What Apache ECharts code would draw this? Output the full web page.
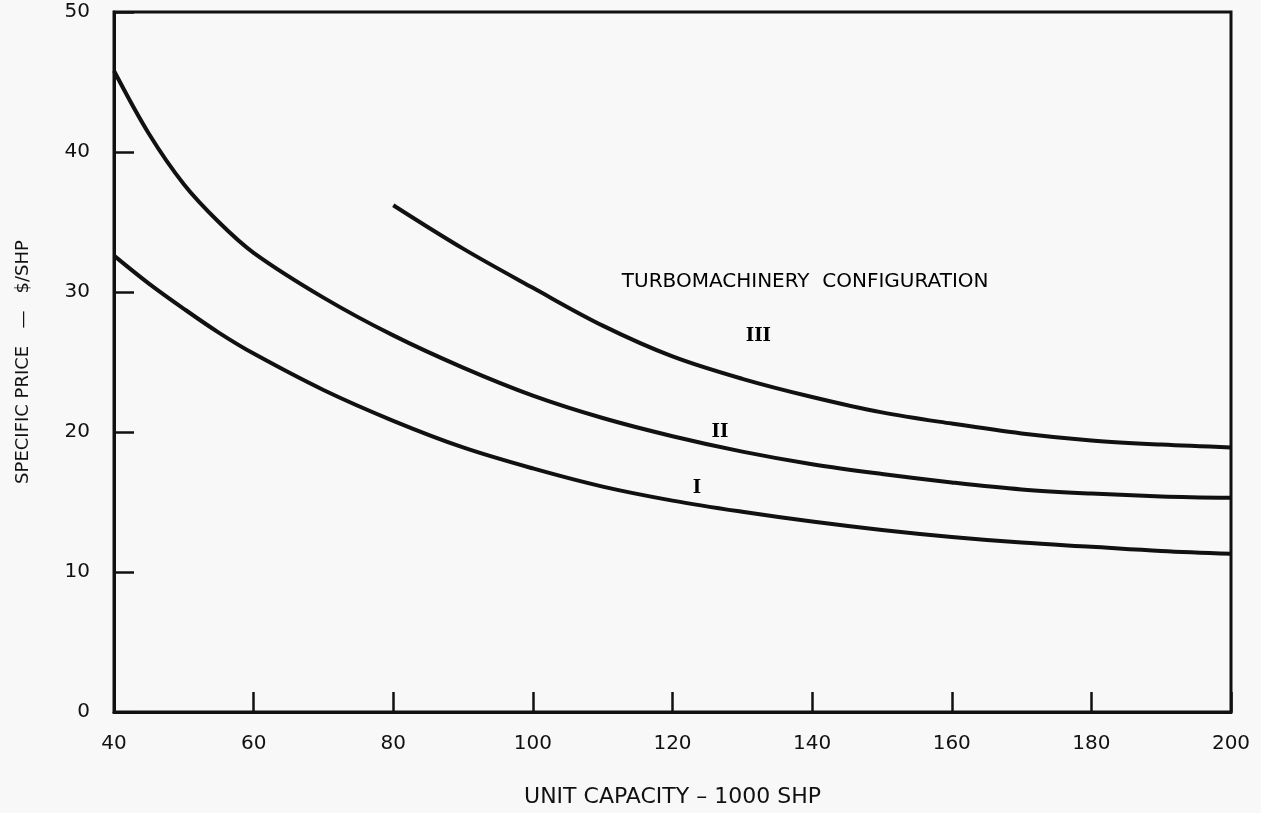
<!DOCTYPE html>
<html>
<head>
<meta charset="utf-8">
<script src="https://cdn.jsdelivr.net/npm/echarts@6/dist/echarts.min.js"></script>
<style>
html,body{margin:0;padding:0;background:#f8f8f8;}
#chart{width:1261px;height:813px;}
</style>
</head>
<body>
<div id="chart"></div>
<script>
// Unit capacity (1000 SHP) sample points
const capacityI_II = [40,45,50,55,60,70,80,90,100,110,120,130,140,150,160,170,180,190,200];
const capacityIII = [80,90,100,110,120,130,140,150,160,170,180,190,200];
// Specific price ($/SHP) for each turbomachinery configuration
const priceI   = [32.6,30.6,28.8,27.1,25.6,23.0,20.8,18.9,17.4,16.1,15.1,14.3,13.6,13.0,12.5,12.1,11.8,11.5,11.3];
const priceII  = [45.8,41.3,37.7,35.0,32.8,29.6,26.9,24.6,22.6,21.0,19.7,18.6,17.7,17.0,16.4,15.9,15.6,15.4,15.3];
const priceIII = [36.2,33.1,30.3,27.6,25.4,23.8,22.5,21.4,20.6,19.9,19.4,19.1,18.9];
// Axis ticks
const xTicks = [40,60,80,100,120,140,160,180,200];
const yTicks = [0,10,20,30,40,50];
// Annotations (text, capacity, price)
const curveLabels = [['III',132.3,26.8],['II',126.8,20.0],['I',123.5,16.0]];
const noteText = 'TURBOMACHINERY  CONFIGURATION';
const notePos = [139.0,30.7];

const zip = (xs, ys) => xs.map((x,i)=>[x, ys[i]]);
const ink = '#111111';
const lineStyle = {color: ink, width: 4};
const curve = (name, xs, ys) => ({type:'line', name, data:zip(xs, ys), smooth:0.35, showSymbol:false, lineStyle});

const chart = echarts.init(document.getElementById('chart'));
chart.setOption({
  backgroundColor: '#f8f8f8',
  animation: false,
  grid: {left:114, right:30, top:12, bottom:100, show:true, borderColor: ink, borderWidth:3, backgroundColor:'transparent'},
  xAxis: {
    type:'value', min:xTicks[0], max:xTicks[xTicks.length-1], interval:20,
    name:'UNIT CAPACITY – 1000 SHP', nameLocation:'middle', nameGap:74,
    nameTextStyle:{fontFamily:'DejaVu Sans', fontSize:22, color:ink},
    axisLine:{lineStyle:{color:ink, width:3}},
    axisTick:{inside:true, length:20, lineStyle:{color:ink, width:2.5}},
    axisLabel:{margin:22, fontFamily:'DejaVu Sans', fontSize:20, color:ink},
    splitLine:{show:false}
  },
  yAxis: {
    type:'value', min:yTicks[0], max:yTicks[yTicks.length-1], interval:10,
    name:'SPECIFIC PRICE   —   $/SHP', nameLocation:'middle', nameGap:82,
    nameTextStyle:{fontFamily:'DejaVu Sans', fontSize:18, color:ink},
    axisLine:{lineStyle:{color:ink, width:3}},
    axisTick:{inside:true, length:20, lineStyle:{color:ink, width:2.5}},
    axisLabel:{margin:24, fontFamily:'DejaVu Sans', fontSize:20, color:ink},
    splitLine:{show:false}
  },
  series: [
    curve('I', capacityI_II, priceI),
    curve('II', capacityI_II, priceII),
    curve('III', capacityIII, priceIII),
    {type:'scatter', symbolSize:1, silent:true, itemStyle:{opacity:0},
     data: curveLabels.map(d=>({value:[d[1],d[2]], label:{formatter:d[0]}})),
     label:{show:true, position:'inside', opacity:1, fontFamily:'DejaVu Serif', fontWeight:'bold', fontSize:18, color:'#000'}},
    {type:'scatter', symbolSize:1, silent:true, itemStyle:{opacity:0},
     data:[{value:notePos}],
     label:{show:true, position:'inside', opacity:1, formatter:noteText, fontFamily:'DejaVu Sans', fontSize:20, color:'#000'}}
  ]
});
</script>
</body>
</html>
